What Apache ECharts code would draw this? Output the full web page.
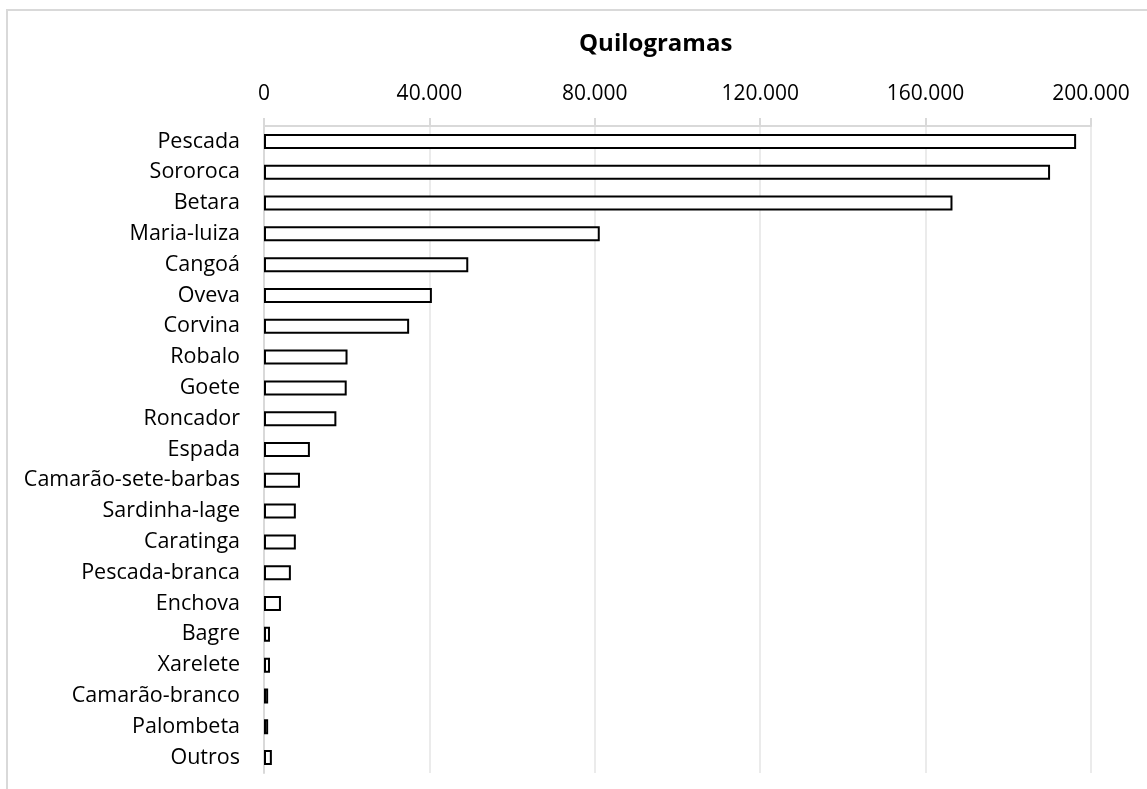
<!DOCTYPE html>
<html>
<head>
<meta charset="utf-8">
<script src="https://cdn.jsdelivr.net/npm/echarts@6/dist/echarts.min.js"></script>
<style>
  html, body { margin: 0; padding: 0; background: #fff; }
  #chart { width: 1147px; height: 789px; }
</style>
</head>
<body>
<div id="chart"></div>
<script>
// species, ordered as in the chart (top to bottom)
var species = ['Pescada', 'Sororoca', 'Betara', 'Maria-luiza', 'Cangoá', 'Oveva', 'Corvina',
    'Robalo', 'Goete', 'Roncador', 'Espada', 'Camarão-sete-barbas', 'Sardinha-lage',
    'Caratinga', 'Pescada-branca', 'Enchova', 'Bagre', 'Xarelete', 'Camarão-branco',
    'Palombeta', 'Outros'];

// kilograms landed
var kilos = [196400, 190100, 166500, 81200, 49400, 40600, 35100,
    20200, 20000, 17500, 11100, 8700, 7700,
    7700, 6500, 4100, 1450, 1450, 1000,
    1000, 1900];

var axisTitle = 'Quilogramas';

var myChart = echarts.init(document.getElementById('chart'));

var font = '"Open Sans", sans-serif';

var option = {
    backgroundColor: '#fff',
    animation: false,
    title: {
        text: axisTitle,
        left: 574,
        top: 27,
        textStyle: { fontFamily: font, fontSize: 24, fontWeight: 'bold', color: '#000' }
    },
    graphic: [{
        type: 'rect',
        shape: { x: 7, y: 10, width: 1300, height: 900 },
        style: { fill: 'none', stroke: '#d9d9d9', lineWidth: 2 }
    }],
    grid: { left: 264, right: 56, top: 126, bottom: 16 },
    xAxis: {
        type: 'value',
        position: 'top',
        min: 0,
        max: 200000,
        interval: 40000,
        axisLine: { show: true, lineStyle: { color: '#d9d9d9', width: 2 } },
        axisTick: { show: true, length: 8, lineStyle: { color: '#d9d9d9', width: 2 } },
        splitLine: { show: true, lineStyle: { color: '#ebebeb', width: 2 } },
        axisLabel: {
            margin: 21,
            fontFamily: font,
            fontSize: 21,
            color: '#000',
            formatter: function (v) {
                return String(v).replace(/\B(?=(\d{3})+(?!\d))/g, '.');
            }
        }
    },
    yAxis: {
        type: 'category',
        inverse: true,
        data: species,
        axisLine: { show: true, lineStyle: { color: '#d9d9d9', width: 2 } },
        axisTick: { show: false },
        axisLabel: { margin: 24, fontFamily: font, fontSize: 21.5, color: '#000' }
    },
    series: [{
        type: 'bar',
        data: kilos,
        barWidth: 15,
        itemStyle: { color: '#fff', borderColor: '#000', borderWidth: 2 }
    }]
};

myChart.setOption(option);
</script>
</body>
</html>
